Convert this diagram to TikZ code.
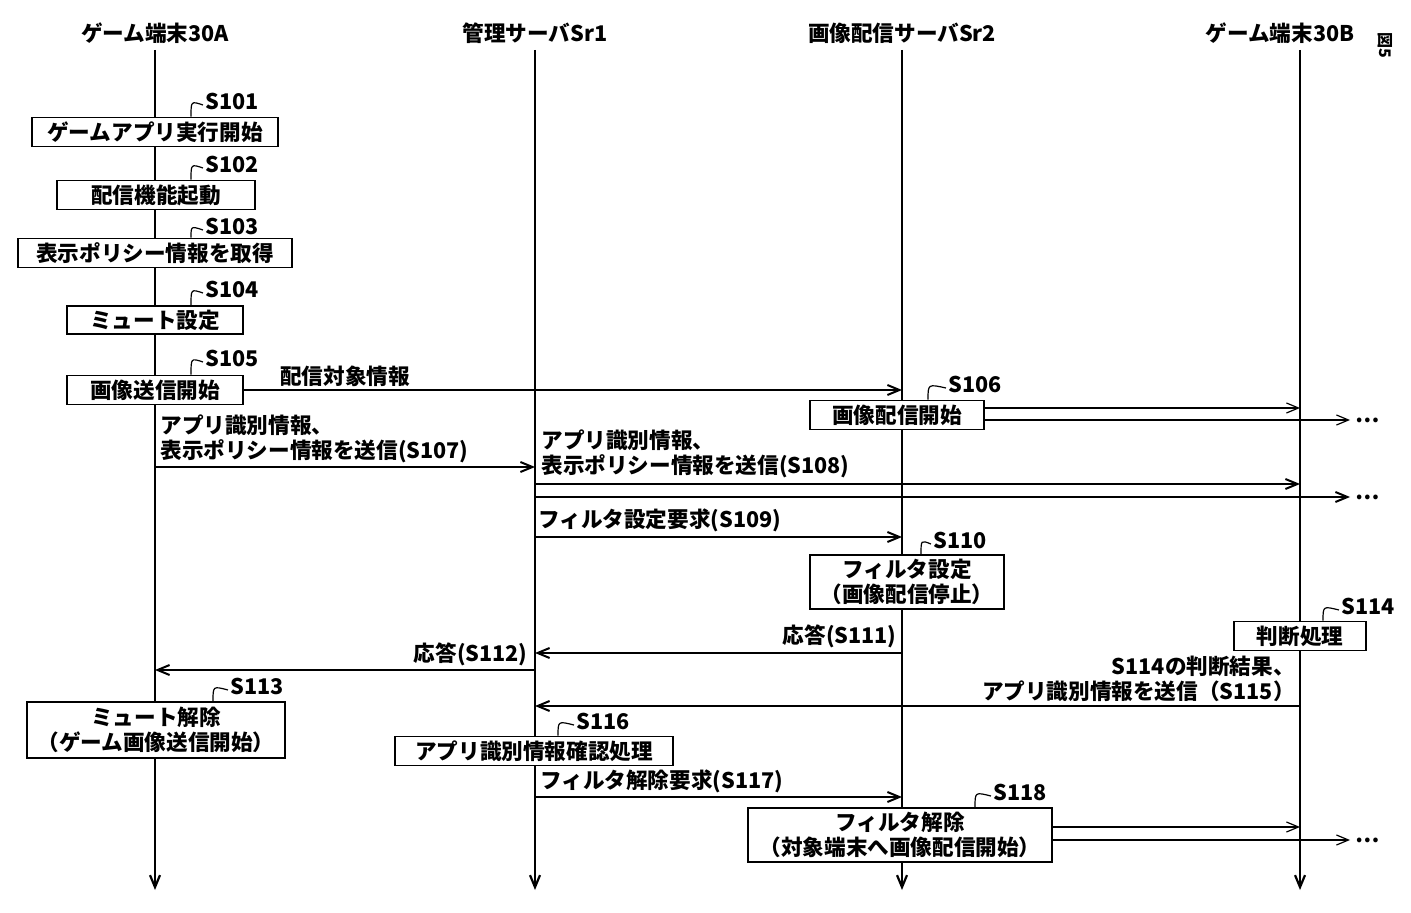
\documentclass[tikz,border=0pt]{standalone}
\usepackage{fontspec}
\setmainfont{Noto Sans CJK JP}
\usetikzlibrary{arrows.meta}
\begin{document}
\begin{tikzpicture}[x=0.5pt,y=-0.5pt,
  every node/.style={font=\fontsize{10.8pt}{12.5pt}\selectfont\bfseries, inner sep=0pt},
  box/.style={draw, line width=0.9pt, fill=white, align=center, inner xsep=4pt, inner ysep=2pt},
  life/.style={line width=1.1pt},
  tip/.style={-{Straight Barb[length=6pt,width=5pt]}},
  msg/.style={line width=1pt, tip},
  dmsg/.style={line width=0.6pt, tip},
  lead/.style={line width=0.6pt},
  txt/.style={align=left}]
\useasboundingbox (0,0) rectangle (1411,913);
% headers
\node (hA) at (155,33) {ゲーム端末30A};
\node (hS1) at (535,33) {管理サーバSr1};
\node (hS2) at (902,33) {画像配信サーバSr2};
\node (hB) at (1280,33) {ゲーム端末30B};
\node[rotate=-90,font=\fontsize{8pt}{9pt}\selectfont\bfseries] (fig) at (1385,45) {図5};
% lifelines
\coordinate (tA) at (155,50); \coordinate (bA) at (155,890);
\coordinate (tS1) at (535,50); \coordinate (bS1) at (535,890);
\coordinate (tS2) at (902,50); \coordinate (bS2) at (902,890);
\coordinate (tB) at (1300,50); \coordinate (bB) at (1300,890);
\foreach \n in {A,S1,S2,B} \draw[life,tip] (t\n) -- (b\n);
% boxes
\node[box,minimum width=123pt,minimum height=14.5pt] (b101) at (155,132) {ゲームアプリ実行開始};
\node[box,minimum width=99pt,minimum height=14.5pt] (b102) at (156,195) {配信機能起動};
\node[box,minimum width=137pt,minimum height=14.5pt] (b103) at (155,253) {表示ポリシー情報を取得};
\node[box,minimum width=88pt,minimum height=14pt] (b104) at (155,320) {ミュート設定};
\node[box,minimum width=88pt,minimum height=14.5pt] (b105) at (155,390) {画像送信開始};
\node[box,minimum width=87pt,minimum height=14.5pt] (b106) at (897,415) {画像配信開始};
\node[box,minimum width=97pt,minimum height=26.5pt] (b110) at (907,582) {フィルタ設定\\（画像配信停止）};
\node[box,minimum width=66pt,minimum height=14.5pt] (b114) at (1300,636) {判断処理};
\node[box,minimum width=129pt,minimum height=28pt] (b113) at (156,730) {ミュート解除\\（ゲーム画像送信開始）};
\node[box,minimum width=139pt,minimum height=14.5pt] (b116) at (534,751) {アプリ識別情報確認処理};
\node[box,minimum width=152pt,minimum height=27pt] (b118) at (900,835) {フィルタ解除\\（対象端末へ画像配信開始）};
% step labels
\foreach \b/\s/\x/\y/\bx in {b101/S101/232/101/191, b102/S102/232/164/191, b103/S103/232/226/191, b104/S104/232/289/191, b105/S105/232/358/191, b106/S106/975/384/928, b110/S110/960/540/921, b114/S114/1368/606/1323, b113/S113/257/686/213, b116/S116/603/721/558, b118/S118/1020/792/975}{
  \node (l\s) at (\x,\y) {\s};
  \draw[lead] (\b.north -| \bx,0) .. controls (\bx,\y) .. ([xshift=-1pt,yshift=-2pt]l\s.west);
}
% messages
\coordinate (m1e) at (902,390);
\draw[msg] (b105.east |- m1e) -- (m1e);
\node[anchor=south] (t1) at (345,387) {配信対象情報};
\coordinate (e106a) at (1300,408); \coordinate (e106b) at (1350,420);
\draw[dmsg] (b106.east |- e106a) -- (e106a);
\draw[dmsg] (b106.east |- e106b) -- (e106b);
\node[anchor=west] (d1) at (1355,420) {…};
\coordinate (s107) at (155,467); \coordinate (e107) at (535,467);
\draw[msg] (s107) -- (e107);
\node[txt,anchor=south west] (t107) at (160,463) {アプリ識別情報、\\表示ポリシー情報を送信(S107)};
\coordinate (s108) at (535,484); \coordinate (e108) at (1300,484);
\coordinate (s108b) at (535,497); \coordinate (e108b) at (1350,497);
\draw[msg] (s108) -- (e108);
\draw[msg] (s108b) -- (e108b);
\node[anchor=west] (d2) at (1355,497) {…};
\node[txt,anchor=south west] (t108) at (541,478) {アプリ識別情報、\\表示ポリシー情報を送信(S108)};
\coordinate (s109) at (535,537); \coordinate (e109) at (902,537);
\draw[msg] (s109) -- (e109);
\node[anchor=south west] (t109) at (538,532) {フィルタ設定要求(S109)};
\coordinate (s111) at (902,653); \coordinate (e111) at (535,653);
\draw[msg] (s111) -- (e111);
\node[anchor=south east] (t111) at (897,648) {応答(S111)};
\coordinate (s112) at (535,670); \coordinate (e112) at (155,670);
\draw[msg] (s112) -- (e112);
\node[anchor=south east] (t112) at (528,666) {応答(S112)};
\coordinate (s115) at (1300,706); \coordinate (e115) at (535,706);
\draw[msg] (s115) -- (e115);
\node[align=right,anchor=south east] (t115) at (1295,702) {S114の判断結果、\\アプリ識別情報を送信（S115）};
\coordinate (s117) at (535,797); \coordinate (e117) at (902,797);
\draw[msg] (s117) -- (e117);
\node[anchor=south west] (t117) at (540,793) {フィルタ解除要求(S117)};
\coordinate (e118a) at (1300,827); \coordinate (e118b) at (1350,840);
\draw[dmsg] (b118.east |- e118a) -- (e118a);
\draw[dmsg] (b118.east |- e118b) -- (e118b);
\node[anchor=west] (d3) at (1355,840) {…};
\end{tikzpicture}
\end{document}
